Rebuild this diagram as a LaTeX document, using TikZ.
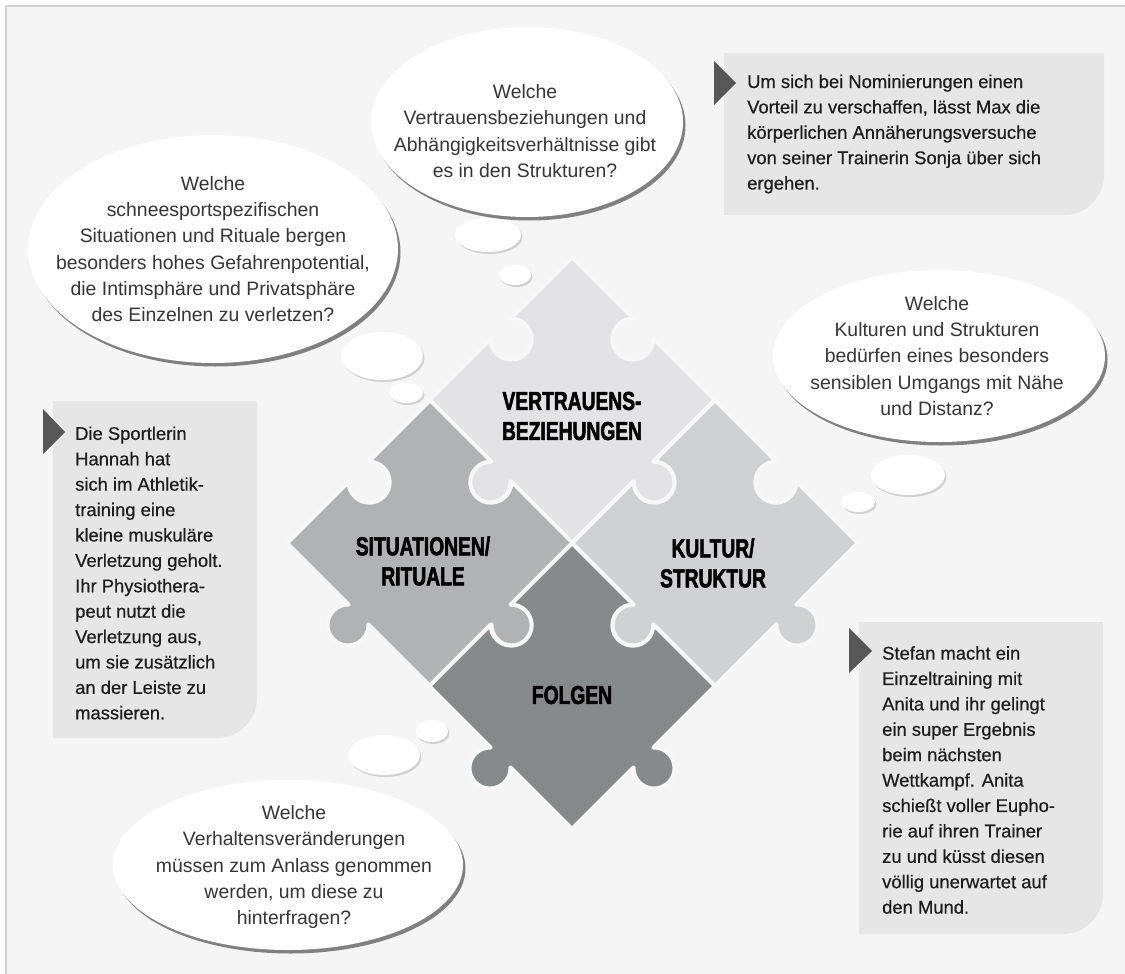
\documentclass[tikz,border=0pt]{standalone}
\usepackage{fontspec}
\setmainfont{Liberation Sans}
\newfontfamily\piecefont{Liberation Sans Bold}[FakeStretch=0.74,FakeBold=2]
\newfontfamily\casefont{Liberation Sans}[FakeBold=0.5]
\usetikzlibrary{shadows}
\definecolor{paper}{HTML}{F5F5F5}
\definecolor{frame}{HTML}{D2D2D2}
\definecolor{pctrust}{HTML}{E3E3E5}
\definecolor{pcsitu}{HTML}{B1B2B4}
\definecolor{pcstruct}{HTML}{D0D1D3}
\definecolor{pcfolge}{HTML}{878A8B}
\definecolor{gap}{HTML}{F7F7F7}
\definecolor{boxgray}{HTML}{E6E6E6}
\definecolor{marker}{HTML}{575757}
\definecolor{ink}{HTML}{1E1E1E}

% puzzle geometry (half side, knob radius, knob offset)
\pgfmathsetmacro\hh{101}
\pgfmathsetmacro\kr{20.5}
\pgfmathsetmacro\kd{15}
\pgfmathsetmacro\kc{sqrt(\kr*\kr-\kd*\kd)}
\pgfmathsetmacro\ka{atan(\kd/\kc)}
\pgfmathsetmacro\hc{sqrt(\hh*\hh+\kc*\kc)}
\pgfmathsetmacro\hb{atan(\kc/\hh)}
\pgfmathsetmacro\hd{\hh*sqrt(2)}
\newcommand\pzknob[1]{-- ({#1-\hb}:\hc) arc[start angle={#1-90-\ka}, end angle={#1+90+\ka}, radius=\kr] -- ({#1+45}:\hd)}
\newcommand\pzhole[1]{-- ({#1-\hb}:\hc) arc[start angle={#1-90+\ka}, end angle={#1-270-\ka}, radius=\kr] -- ({#1+45}:\hd)}

\tikzset{
  bubble/.style={fill=white, drop shadow={shadow xshift=2.5pt, shadow yshift=-3.5pt, fill=black!50, opacity=1}},
  puff/.style={fill=white, drop shadow={shadow xshift=1.5pt, shadow yshift=-2pt, fill=black!18, opacity=1}},
  bubbletext/.style={align=center, inner sep=0, text=ink!90, font=\fontsize{19.4}{26.3}\selectfont},
  casetext/.style={align=left, inner sep=0, text=ink, anchor=west, font=\casefont\fontsize{18.4}{25.4}\selectfont},
  piecelabel/.style={align=center, inner sep=0, text=black, font=\piecefont\fontsize{26}{30}\selectfont},
  piece/.style={draw=gap, line width=4, line join=round},
}

\begin{document}
\begin{tikzpicture}[x=1pt, y=1pt]
\clip (0,0) rectangle (1125,-974);
\fill[white] (0,0) rectangle (1125,-974);
\draw[fill=paper, draw=frame, line width=2] (6,-6) rectangle (1140,-990);

% Puzzle
  \begin{scope}[shift={(572,-400)}, rotate=45]
    \fill[piece, fill=pctrust] (-45:\hd) \pzhole{0} \pzhole{90} \pzknob{180} \pzknob{270} -- cycle;
  \end{scope}
  \begin{scope}[shift={(430,-543)}, rotate=45]
    \fill[piece, fill=pcsitu] (-45:\hd) \pzhole{0} \pzhole{90} \pzknob{180} \pzknob{270} -- cycle;
  \end{scope}
  \begin{scope}[shift={(715,-543)}, rotate=45]
    \fill[piece, fill=pcstruct] (-45:\hd) \pzhole{0} \pzhole{90} \pzknob{180} \pzknob{270} -- cycle;
  \end{scope}
  \begin{scope}[shift={(572,-686)}, rotate=45]
    \fill[piece, fill=pcfolge] (-45:\hd) \pzhole{0} \pzhole{90} \pzknob{180} \pzknob{270} -- cycle;
  \end{scope}

  \node[piecelabel] (lbltrust) at (572,-416) {VERTRAUENS-\\BEZIEHUNGEN};
  \node[piecelabel] (lblsitu) at (423,-561) {SITUATIONEN/\\RITUALE};
  \node[piecelabel] (lblstruct) at (713,-563) {KULTUR/\\STRUKTUR};
  \node[piecelabel] (lblfolge) at (572,-695) {FOLGEN};

% Bubble: trust
  \fill[puff] (515,-275) ellipse [x radius=16, y radius=10];
  \fill[puff] (488,-235) ellipse [x radius=33, y radius=17];
  \fill[bubble] (527,-122) ellipse [x radius=156, y radius=95];
  \node[bubbletext] (qtrust) at (525,-131) {Welche\\Vertrauensbeziehungen und\\Abhängigkeitsverhältnisse gibt\\es in den Strukturen?};

% Bubble: situations
  \fill[puff] (406,-393) ellipse [x radius=17, y radius=10];
  \fill[puff] (382,-356) ellipse [x radius=41, y radius=24];
  \fill[bubble] (213,-249) ellipse [x radius=185, y radius=114];
  \node[bubbletext] (qsitu) at (213,-249) {Welche\\schneesportspezifischen\\Situationen und Rituale bergen\\besonders hohes Gefahrenpotential,\\die Intimsphäre und Privatsphäre\\des Einzelnen zu verletzen?};

% Bubble: structures
  \fill[puff] (858,-502) ellipse [x radius=17, y radius=10];
  \fill[puff] (908,-475) ellipse [x radius=37, y radius=20];
  \fill[bubble] (939,-356) ellipse [x radius=166, y radius=86];
  \node[bubbletext] (qstruct) at (937,-356) {Welche\\Kulturen und Strukturen\\bedürfen eines besonders\\sensiblen Umgangs mit Nähe\\und Distanz?};

% Bubble: consequences
  \fill[puff] (432,-731) ellipse [x radius=16, y radius=11];
  \fill[puff] (384,-755) ellipse [x radius=36, y radius=20];
  \fill[bubble] (288,-865) ellipse [x radius=175, y radius=85];
  \node[bubbletext] (qfolge) at (294,-867) {Welche\\Verhaltensveränderungen\\müssen zum Anlass genommen\\werden, um diese zu\\hinterfragen?};

% Case: Max
  \fill[boxgray] (724,-53) -- (1104,-53) -- (1104,-175) arc[start angle=0, end angle=-90, radius=40] -- (724,-215) -- cycle;
  \fill[marker] (714,-61) -- (736,-83) -- (714,-105) -- cycle;
  \node[casetext] (casemax) at (747,-134) {Um sich bei Nominierungen einen\\Vorteil zu verschaffen, lässt Max die\\körperlichen Annäherungsversuche\\von seiner Trainerin Sonja über sich\\ergehen.};

% Case: Hannah
  \fill[boxgray] (53,-401) -- (257,-401) -- (257,-698) arc[start angle=0, end angle=-90, radius=40] -- (53,-738) -- cycle;
  \fill[marker] (43,-409) -- (65,-432) -- (43,-454) -- cycle;
  \node[casetext] (casehannah) at (75,-573) {Die Sportlerin\\Hannah hat\\sich im Athletik-\\training eine\\kleine muskuläre\\Verletzung geholt.\\Ihr Physiothera-\\peut nutzt die\\Verletzung aus,\\um sie zusätzlich\\an der Leiste zu\\massieren.};

% Case: Anita
  \fill[boxgray] (859,-622) -- (1103,-622) -- (1103,-894) arc[start angle=0, end angle=-90, radius=40] -- (859,-934) -- cycle;
  \fill[marker] (849,-628) -- (872,-651) -- (849,-673) -- cycle;
  \node[casetext] (caseanita) at (882,-780) {Stefan macht ein\\Einzeltraining mit\\Anita und ihr gelingt\\ein super Ergebnis\\beim nächsten\\Wettkampf. Anita\\schießt voller Eupho-\\rie auf ihren Trainer\\zu und küsst diesen\\völlig unerwartet auf\\den Mund.};

\end{tikzpicture}
\end{document}
